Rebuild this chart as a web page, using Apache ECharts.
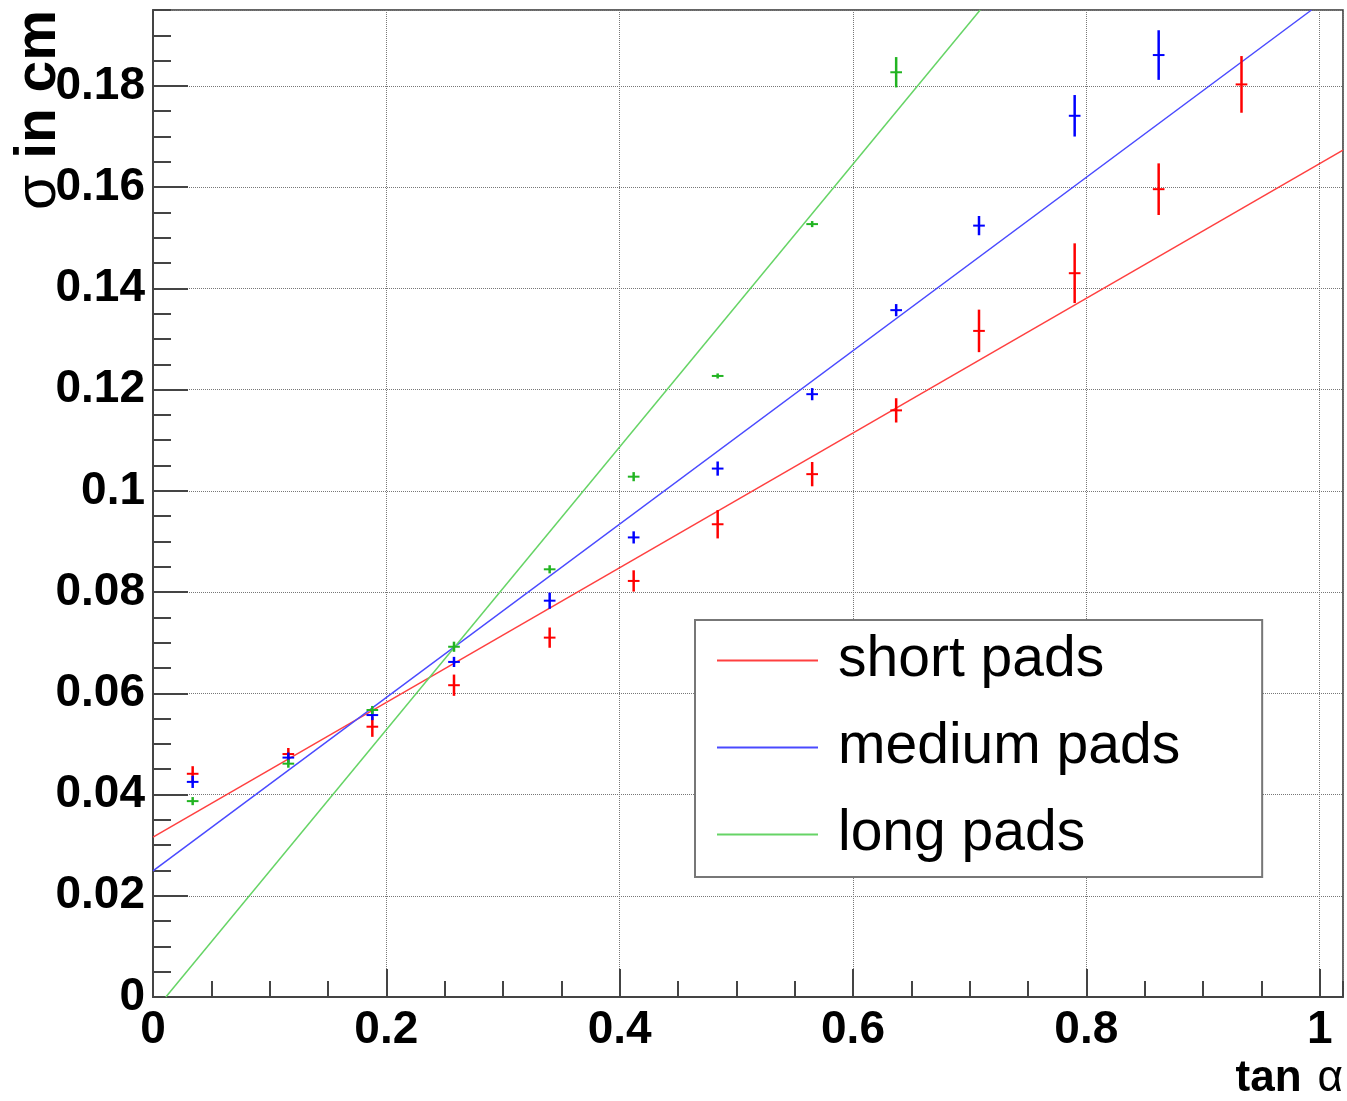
<!DOCTYPE html>
<html>
<head>
<meta charset="utf-8">
<title>sigma vs tan alpha</title>
<script src="https://cdn.jsdelivr.net/npm/echarts@6/dist/echarts.min.js"></script>
<style>
  html, body { margin: 0; padding: 0; background: #fff; }
  #chart { width: 1347px; height: 1101px; }
</style>
</head>
<body>
<div id="chart"></div>
<script>
// ------------------------------
// Data
// ------------------------------

// tan(alpha) bins and their half widths
var tanAlpha = [0.034, 0.116, 0.188, 0.258, 0.340, 0.412, 0.484, 0.565, 0.637, 0.708, 0.790, 0.862, 0.933];
var tanErr = [0.005, 0.005, 0.005, 0.005, 0.005, 0.005, 0.005, 0.005, 0.005, 0.005, 0.005, 0.005, 0.005];

// sigma in cm per pad type (null = outside the frame)
var shortSigma = [0.0441, 0.0480, 0.0534, 0.0616, 0.0710, 0.0822, 0.0934, 0.1033, 0.1159, 0.1316, 0.1430, 0.1596, 0.1803];
var shortErr = [0.0015, 0.0012, 0.0020, 0.0021, 0.0020, 0.0021, 0.0028, 0.0024, 0.0024, 0.0042, 0.0059, 0.0051, 0.0056];

var mediumSigma = [0.0425, 0.0473, 0.0557, 0.0662, 0.0783, 0.0908, 0.1044, 0.1191, 0.1357, 0.1524, 0.1741, 0.1861, null];
var mediumErr = [0.0012, 0.0010, 0.0010, 0.0010, 0.0016, 0.0012, 0.0014, 0.0012, 0.0012, 0.0019, 0.0041, 0.0049, null];

var longSigma = [0.0387, 0.0461, 0.0567, 0.0692, 0.0845, 0.1028, 0.1227, 0.1527, 0.1827, null, null, null, null];
var longErr = [0.0008, 0.0008, 0.0008, 0.0010, 0.0008, 0.0009, 0.0005, 0.0006, 0.0030, null, null, null, null];

// straight-line fits: where each line enters and leaves the frame
var shortFitX = [0, 1.02];
var shortFitY = [0.0316, 0.1673];
var mediumFitX = [0, 0.993];
var mediumFitY = [0.0249, 0.195];
var longFitX = [0.011, 0.709];
var longFitY = [0, 0.195];

var seriesNames = ['short pads', 'medium pads', 'long pads'];


// ------------------------------
// Helpers
// ------------------------------

var pairs = function(xs, ys) {
    var out = [];
    for (var i = 0; i < xs.length; i++) {
        out.push([xs[i], ys[i]]);
    }
    return out;
};

var points = function(vals, errs) {
    var out = [];
    for (var i = 0; i < tanAlpha.length; i++) {
        if (vals[i] === null) continue;
        out.push([tanAlpha[i], vals[i], tanErr[i], errs[i]]);
    }
    return out;
};

// error cross: horizontal bar for tan error, vertical for sigma error
var crossRenderer = function(color) {
    return function(params, api) {
        var x = api.value(0), y = api.value(1);
        var ex = api.value(2), ey = api.value(3);
        var l = api.coord([x - ex, y]), r = api.coord([x + ex, y]);
        var b = api.coord([x, y - ey]), t = api.coord([x, y + ey]);
        return {
            type: 'group',
            children: [
                { type: 'line', shape: { x1: l[0], y1: l[1], x2: r[0], y2: r[1] }, style: { stroke: color, lineWidth: 2 } },
                { type: 'line', shape: { x1: b[0], y1: b[1], x2: t[0], y2: t[1] }, style: { stroke: color, lineWidth: 2.5 } }
            ]
        };
    };
};

var fitSeries = function(name, xs, ys, color) {
    return {
        name: name,
        type: 'line',
        data: pairs(xs, ys),
        showSymbol: false,
        symbol: 'none',
        silent: true,
        lineStyle: { color: color, width: 1.5 },
        itemStyle: { color: color },
        z: 3
    };
};

var pointSeries = function(vals, errs, color) {
    return {
        type: 'custom',
        data: points(vals, errs),
        encode: { x: 0, y: 1 },
        renderItem: crossRenderer(color),
        silent: true,
        z: 4
    };
};

var font = '"Liberation Sans", Arial, Helvetica, sans-serif';


// ------------------------------
// Chart
// ------------------------------

var chartEl = document.getElementById('chart');
var chart = echarts.init(chartEl, null, { renderer: 'canvas' });

chart.setOption({
    animation: false,
    backgroundColor: '#fff',
    textStyle: { fontFamily: font },

    grid: {
        left: 153,
        top: 10,
        width: 1190,
        height: 987,
        show: true,
        borderColor: '#333',
        borderWidth: 1.5,
        outerBoundsMode: 'none'
    },

    legend: {
        data: seriesNames,
        orient: 'vertical',
        left: 695,
        top: 620,
        padding: [12, 82, 14, 21],
        itemWidth: 101,
        itemHeight: 30,
        itemGap: 30,
        backgroundColor: '#fff',
        borderColor: '#777',
        borderWidth: 2,
        borderRadius: 0,
        selectedMode: false,
        lineStyle: { width: 2 },
        itemStyle: { opacity: 0, borderWidth: 0 },
        textStyle: {
            fontFamily: font,
            fontSize: 57,
            color: '#000',
            padding: [0, 0, 0, 15]
        }
    },

    xAxis: [{
        type: 'value',
        min: 0,
        max: 1.02,
        interval: 0.2,
        axisLine: { show: true, onZero: false, lineStyle: { color: '#444', width: 2 } },
        axisTick: { show: true, inside: true, length: 28, lineStyle: { color: '#444', width: 2 } },
        axisLabel: {
            margin: 10,
            showMaxLabel: false,
            color: '#000',
            fontFamily: font,
            fontWeight: 'bold',
            fontSize: 46
        },
        splitLine: { show: true, lineStyle: { color: '#777', type: 'dotted', width: 1 } }
    }, {
        // minor ticks every 0.05
        type: 'value',
        position: 'bottom',
        min: 0,
        max: 1.02,
        interval: 0.05,
        axisLine: { show: false },
        axisTick: { show: true, inside: true, length: 16, lineStyle: { color: '#444', width: 2 } },
        axisLabel: { show: false },
        splitLine: { show: false }
    }],

    yAxis: [{
        type: 'value',
        min: 0,
        max: 0.195,
        interval: 0.02,
        axisLine: { show: true, onZero: false, lineStyle: { color: '#444', width: 2 } },
        axisTick: { show: true, inside: true, length: 35, lineStyle: { color: '#444', width: 2 } },
        axisLabel: {
            margin: 8,
            showMaxLabel: false,
            color: '#000',
            fontFamily: font,
            fontWeight: 'bold',
            fontSize: 46
        },
        splitLine: { show: true, lineStyle: { color: '#777', type: 'dotted', width: 1 } }
    }, {
        // minor ticks every 0.005
        type: 'value',
        position: 'left',
        min: 0,
        max: 0.195,
        interval: 0.005,
        axisLine: { show: false },
        axisTick: { show: true, inside: true, length: 18, lineStyle: { color: '#444', width: 2 } },
        axisLabel: { show: false },
        splitLine: { show: false }
    }],

    graphic: [{
        type: 'text',
        x: 68,
        y: 10,
        rotation: Math.PI / 2,
        style: {
            text: '{s|σ} {b|in cm}',
            align: 'right',
            verticalAlign: 'bottom',
            fill: '#000',
            fontSize: 57,
            rich: {
                s: { fontFamily: font, fontSize: 57, fill: '#000' },
                b: { fontFamily: font, fontSize: 57, fontWeight: 'bold', fill: '#000' }
            }
        }
    }, {
        type: 'text',
        x: 1343,
        y: 1079,
        style: {
            text: '{b|tan}{s|α}',
            align: 'right',
            verticalAlign: 'middle',
            fill: '#000',
            rich: {
                b: { fontFamily: font, fontSize: 44, fontWeight: 'bold', fill: '#000' },
                s: { fontFamily: font, fontSize: 44, fill: '#000', padding: [0, 0, 0, 16] }
            }
        }
    }],

    series: [
        fitSeries(seriesNames[0], shortFitX, shortFitY, '#ff4040'),
        fitSeries(seriesNames[1], mediumFitX, mediumFitY, '#4a4aff'),
        fitSeries(seriesNames[2], longFitX, longFitY, '#66d466'),
        pointSeries(shortSigma, shortErr, '#ff0000'),
        pointSeries(mediumSigma, mediumErr, '#0000ff'),
        pointSeries(longSigma, longErr, '#22b422')
    ]
});

window.addEventListener('resize', function() {
    chart.resize();
});
</script>
</body>
</html>
